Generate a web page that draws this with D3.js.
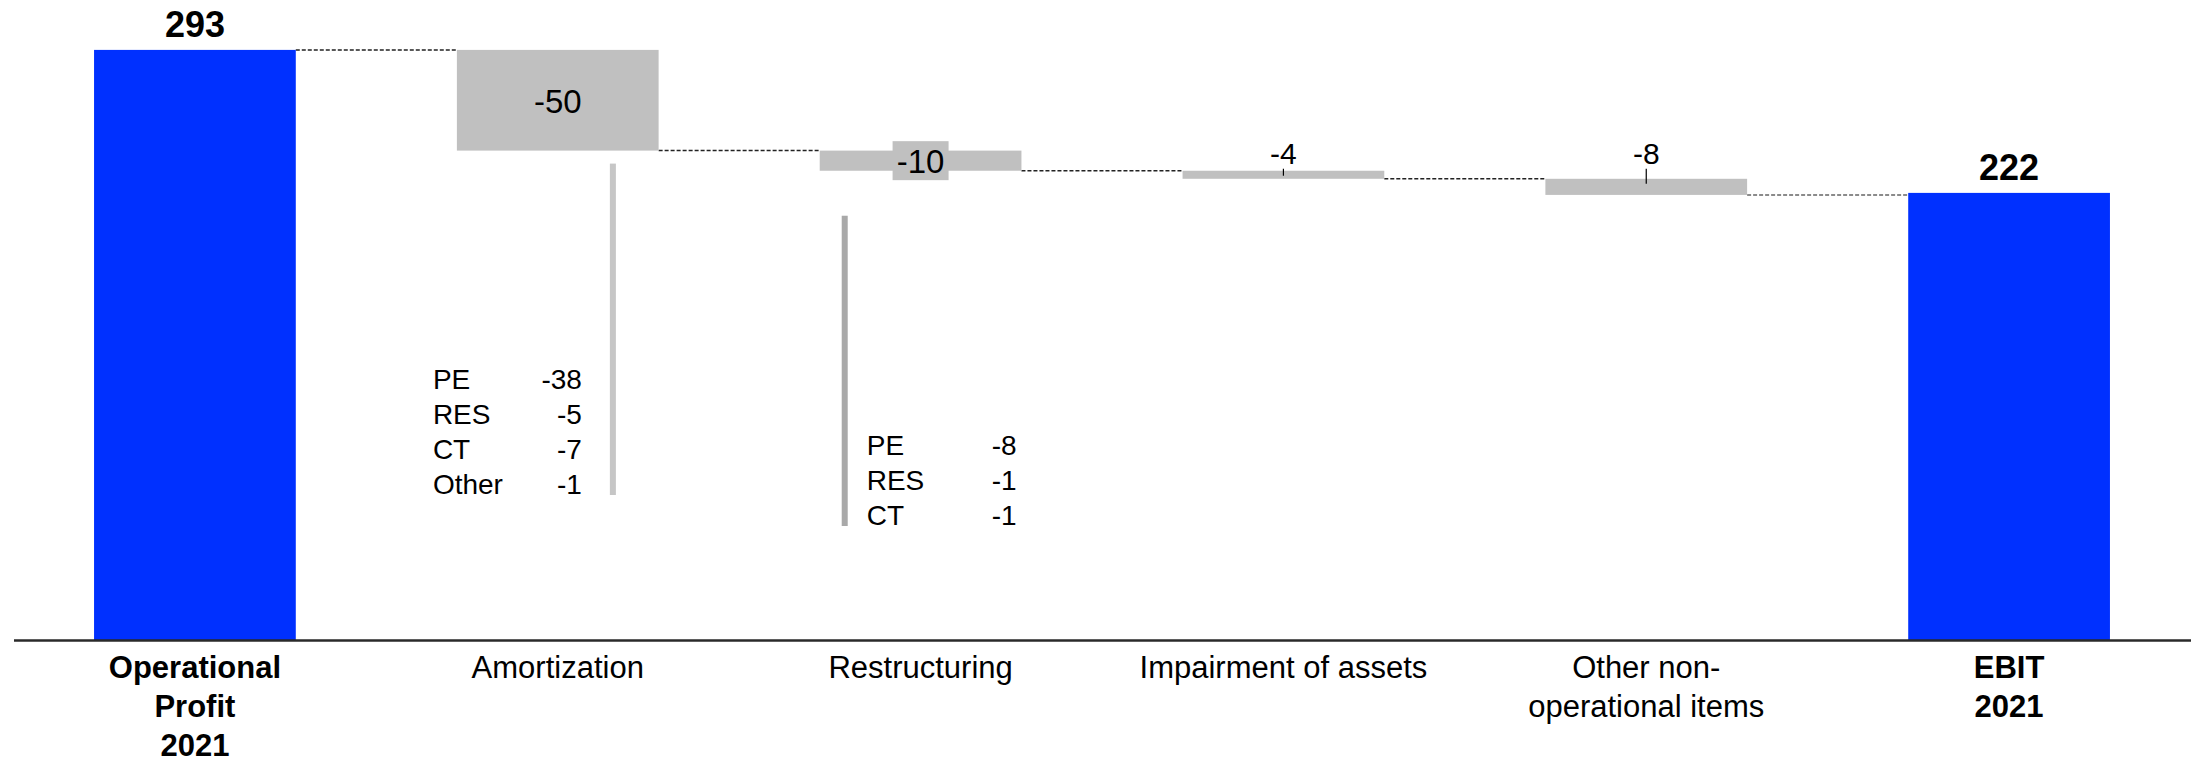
<!DOCTYPE html>
<html>
<head>
<meta charset="utf-8">
<script src="https://cdn.jsdelivr.net/npm/d3@7"></script>
<style>
  html, body { margin: 0; padding: 0; background: #ffffff; }
  svg { display: block; font-family: "Liberation Sans", Arial, Helvetica, sans-serif; }
</style>
</head>
<body>
<svg id="chart" width="2198" height="764"></svg>
<script>
// ---- Bridge data: operational profit to EBIT, 2021 ----
const categories = [
  "Operational Profit 2021",
  "Amortization",
  "Restructuring",
  "Impairment of assets",
  "Other non-operational items",
  "EBIT 2021"
];
const categoryLines = [
  ["Operational", "Profit", "2021"],
  ["Amortization"],
  ["Restructuring"],
  ["Impairment of assets"],
  ["Other non-", "operational items"],
  ["EBIT", "2021"]
];
const values = [293, -50, -10, -4, -8, 222];
const isTotal = [true, false, false, false, false, true];

// Breakdown of amortization and restructuring by segment
const amortizationParts = ["PE", "RES", "CT", "Other"];
const amortizationValues = [-38, -5, -7, -1];
const restructuringParts = ["PE", "RES", "CT"];
const restructuringValues = [-8, -1, -1];

// ---- Layout ----
const width = 2198, height = 764;
const baseY = 640;
const blue = "#0030ff";
const grey = "#c0c0c0";

const svg = d3.select("#chart");

const x = d3.scaleBand()
  .domain(categories)
  .range([13.5, 2190.5])
  .paddingInner(0.444)
  .paddingOuter(0.222);

const y = d3.scaleLinear()
  .domain([0, 300])
  .range([baseY, baseY - 300 * 2.014]);

// Floating segments: totals start at zero, deltas continue the running level
let level = 0;
const bars = values.map((v, i) => {
  let from, to;
  if (isTotal[i]) { from = 0; to = v; level = v; }
  else { from = level; to = level + v; level = to; }
  return { cat: categories[i], value: v, from, to, total: isTotal[i] };
});

const bw = x.bandwidth();

// Plain hyphen-minus for negative numbers
const fmt = v => String(v);

// Dashed connectors between consecutive bars
const connectors = bars.slice(0, -1).map((b, i) => ({
  x1: x(b.cat) + bw,
  x2: x(bars[i + 1].cat),
  level: b.to
}));
svg.append("g").selectAll("line")
  .data(connectors)
  .join("line")
  .attr("x1", d => d.x1)
  .attr("x2", d => d.x2)
  .attr("y1", d => y(d.level))
  .attr("y2", d => y(d.level))
  .attr("stroke", (d, i) => i === connectors.length - 1 ? "#666" : "#222")
  .attr("stroke-width", 1.5)
  .attr("stroke-dasharray", "4,2");

// Bars
svg.append("g").selectAll("rect")
  .data(bars)
  .join("rect")
  .attr("x", d => x(d.cat))
  .attr("width", bw)
  .attr("y", d => y(Math.max(d.from, d.to)))
  .attr("height", d => Math.abs(y(d.from) - y(d.to)))
  .attr("fill", d => d.total ? blue : grey);

// Axis with multi-line category labels
const axis = svg.append("g")
  .attr("transform", `translate(0,${baseY})`)
  .call(d3.axisBottom(x).tickSize(0).tickSizeOuter(0));
axis.select(".domain").attr("stroke", "#2a2a2a").attr("stroke-width", 2.6);
axis.selectAll(".tick text").remove();
axis.selectAll(".tick").each(function (cat) {
  const i = categories.indexOf(cat);
  const t = d3.select(this).append("text")
    .attr("text-anchor", "middle")
    .attr("fill", "#000")
    .attr("font-size", 31)
    .attr("font-weight", isTotal[i] ? "bold" : "normal");
  categoryLines[i].forEach((line, k) => {
    t.append("tspan").attr("x", 0).attr("y", 38 + k * 39).text(line);
  });
});

// Value labels
const smallBars = bars.filter(b => !b.total && Math.abs(y(b.from) - y(b.to)) < 18);
const smallLabelBase = d3.min(smallBars, b => y(b.from)) - 7;

bars.forEach(b => {
  const cx = x(b.cat) + bw / 2;
  const top = y(Math.max(b.from, b.to));
  const bottom = y(Math.min(b.from, b.to));
  const h = bottom - top;
  if (b.total) {
    svg.append("text")
      .attr("x", cx).attr("y", top - 13)
      .attr("text-anchor", "middle")
      .attr("font-size", 36).attr("font-weight", "bold")
      .text(fmt(b.value));
  } else if (h > 60) {
    svg.append("text")
      .attr("x", cx).attr("y", (top + bottom) / 2 + 12.5)
      .attr("text-anchor", "middle")
      .attr("font-size", 33)
      .text(fmt(b.value));
  } else if (h >= 18) {
    const mid = (top + bottom) / 2;
    svg.append("rect")
      .attr("x", cx - 28).attr("width", 56)
      .attr("y", mid - 19.5).attr("height", 39)
      .attr("fill", grey);
    svg.append("text")
      .attr("x", cx).attr("y", mid + 12.5)
      .attr("text-anchor", "middle")
      .attr("font-size", 33)
      .text(fmt(b.value));
  } else {
    svg.append("text")
      .attr("x", cx).attr("y", smallLabelBase)
      .attr("text-anchor", "middle")
      .attr("font-size", 30)
      .text(fmt(b.value));
    svg.append("line")
      .attr("x1", cx).attr("x2", cx)
      .attr("y1", smallLabelBase + 5).attr("y2", top + 5)
      .attr("stroke", "#000").attr("stroke-width", 1.2);
  }
});

// Segment breakdowns beside the amortization and restructuring bars
function breakdown(cat, names, vals, opt) {
  const b = bars[categories.indexOf(cat)];
  const x0 = x(cat);
  const g = svg.append("g").attr("font-size", 28).attr("fill", "#000");
  names.forEach((n, k) => {
    const by = opt.firstBaseline + k * 35;
    g.append("text").attr("x", x0 + opt.nameDx).attr("y", by).text(n);
    g.append("text")
      .attr("x", x0 + opt.valueDx).attr("y", by)
      .attr("text-anchor", opt.valueAnchor)
      .text(fmt(vals[k]));
  });
  const lastBaseline = opt.firstBaseline + (names.length - 1) * 35;
  svg.append("rect")
    .attr("x", x0 + opt.lineDx - 3)
    .attr("width", 6)
    .attr("y", y(b.to) + opt.lineGap)
    .attr("height", lastBaseline + 1 - (y(b.to) + opt.lineGap))
    .attr("fill", opt.lineColor);
}

breakdown("Amortization", amortizationParts, amortizationValues, {
  firstBaseline: 389, nameDx: -24, valueDx: 125, valueAnchor: "end",
  lineDx: 156, lineGap: 13, lineColor: "#c6c6c6"
});
breakdown("Restructuring", restructuringParts, restructuringValues, {
  firstBaseline: 455, nameDx: 47, valueDx: 172, valueAnchor: "start",
  lineDx: 25, lineGap: 45, lineColor: "#a9a9a9"
});
</script>
</body>
</html>
